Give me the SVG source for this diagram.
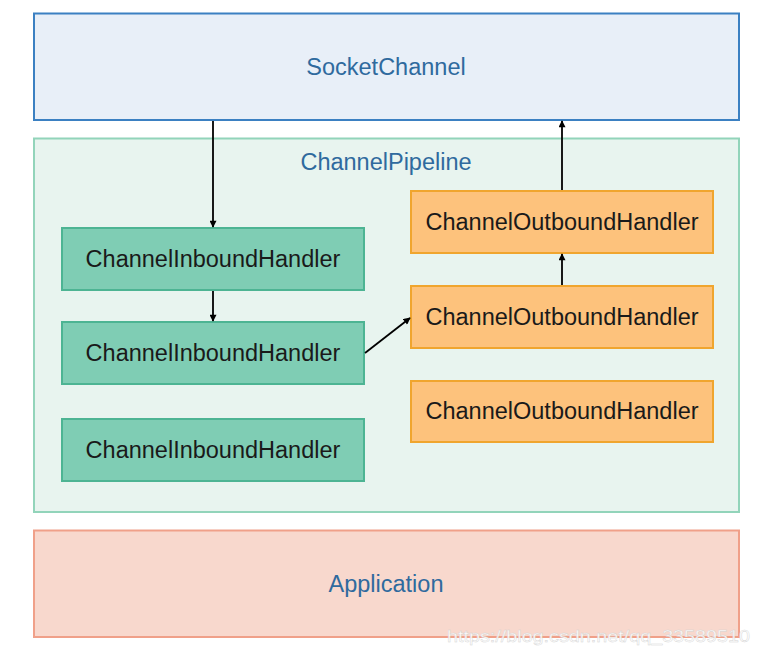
<svg xmlns="http://www.w3.org/2000/svg" width="776" height="660" viewBox="0 0 776 660">
  <style>
    .t { font-family: "Liberation Sans", Arial, sans-serif; font-size: 23.5px; text-anchor: middle; dominant-baseline: central; }
    .title { fill: #2f6a9e; }
    .lbl { fill: #1a1a1a; }
    .inb { fill: #7fcdb4; stroke: #4db493; stroke-width: 2; }
    .outb { fill: #fdc27c; stroke: #f0a52e; stroke-width: 2; }
    .conn { stroke: #000; stroke-width: 1.8; fill: none; marker-end: url(#ah); }
  </style>
  <defs>
    <marker id="ah" viewBox="0 0 10 10" refX="9" refY="5" markerWidth="8" markerHeight="7" markerUnits="userSpaceOnUse" orient="auto">
      <path d="M0,0 L10,5 L0,10 z" fill="#000"/>
    </marker>
  </defs>
  <rect width="776" height="660" fill="#ffffff"/>

  <g id="socketchannel">
    <rect x="34" y="13.5" width="705" height="106.5" fill="#e8eff8" stroke="#3b80c2" stroke-width="2"/>
    <text class="t title" x="386" y="67">SocketChannel</text>
  </g>

  <g id="pipeline">
    <rect x="34" y="138.5" width="705" height="373.5" fill="#e8f4ef" stroke="#92d4ba" stroke-width="2"/>
    <text class="t title" x="386" y="162">ChannelPipeline</text>
  </g>

  <g id="inbound1">
    <rect class="inb" x="62" y="228" width="302" height="62"/>
    <text class="t lbl" x="213" y="259">ChannelInboundHandler</text>
  </g>
  <g id="inbound2">
    <rect class="inb" x="62" y="322" width="302" height="62"/>
    <text class="t lbl" x="213" y="353">ChannelInboundHandler</text>
  </g>
  <g id="inbound3">
    <rect class="inb" x="62" y="419" width="302" height="62"/>
    <text class="t lbl" x="213" y="450">ChannelInboundHandler</text>
  </g>

  <g id="outbound1">
    <rect class="outb" x="411" y="191" width="302" height="62"/>
    <text class="t lbl" x="562" y="222">ChannelOutboundHandler</text>
  </g>
  <g id="outbound2">
    <rect class="outb" x="411" y="286" width="302" height="62"/>
    <text class="t lbl" x="562" y="317">ChannelOutboundHandler</text>
  </g>
  <g id="outbound3">
    <rect class="outb" x="411" y="381" width="302" height="61"/>
    <text class="t lbl" x="562" y="411">ChannelOutboundHandler</text>
  </g>

  <g id="application">
    <rect x="34" y="530.5" width="705" height="106.5" fill="#f8d8cd" stroke="#f0a089" stroke-width="2"/>
    <text class="t title" x="386" y="584">Application</text>
  </g>

  <g id="connectors">
    <line class="conn" x1="213" y1="121" x2="213" y2="227"/>
    <line class="conn" x1="213" y1="291" x2="213" y2="321"/>
    <line class="conn" x1="365" y1="353" x2="410" y2="318"/>
    <line class="conn" x1="562" y1="285" x2="562" y2="254"/>
    <line class="conn" x1="562" y1="190" x2="562" y2="121"/>
  </g>

  <text x="447" y="642" font-family="'Liberation Sans', Arial, sans-serif" font-size="17" fill="#ffffff" stroke="#d0d0d0" stroke-width="0.4" textLength="303" lengthAdjust="spacingAndGlyphs" opacity="0.9">https://blog.csdn.net/qq_33589510</text>
</svg>
